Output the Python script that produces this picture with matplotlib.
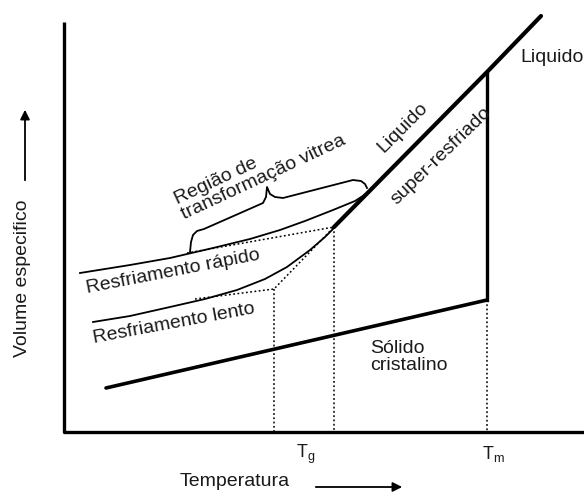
import numpy as np
import matplotlib
matplotlib.use("Agg")
import matplotlib.pyplot as plt

plt.rcParams['font.family'] = ['Liberation Sans', 'DejaVu Sans']
plt.rcParams['mathtext.fontset'] = 'custom'
plt.rcParams['mathtext.rm'] = 'Liberation Sans'

# schematic values (temperature, specific volume), arbitrary units
liquid_T = [270, 423, 477]
liquid_V = [205, 360, 416]
solid_T = [42, 423]
solid_V = [44, 132]
Tg = 210
Tg_fast = 270
Tm = 423
fast_T = [16, 66, 106, 149, 186, 216, 241, 269, 291, 305]
fast_V = [159, 167, 174, 184, 193, 202, 211, 222, 231, 240]
slow_T = [29, 66, 106, 141, 173, 201, 223, 246, 261, 272]
slow_V = [110, 116, 125, 133, 142, 153, 165, 182, 195, 206]
fast_glass_T = [123, 270]
fast_glass_V = [179, 205]
slow_glass_T = [131, 210, 270]
slow_glass_V = [133, 143, 205]
brace_T = [126, 127, 129, 133, 140, 199, 202, 203, 206, 211, 219, 289, 297, 301, 303]
brace_V = [180, 190, 197, 201, 203, 229, 235, 245, 238, 235, 234, 252, 251, 248, 244]

fig = plt.figure(figsize=(5.84, 4.93), dpi=100)
ax = fig.add_axes([0, 0, 1, 1])
ax.set_xlim(-64, 520)
ax.set_ylim(-61, 432)
ax.axis('off')

ink = '#1a1a1a'
dots = (0, (1.2, 1.6))

# axes
ax.plot([0, 0, 520], [410, 0, 0], color='black', lw=2.4, solid_capstyle='butt')

# dotted guides
ax.plot([Tm, Tm], [solid_V[1], 0], color='black', lw=1.1, ls=dots)
ax.plot([Tg, Tg], [slow_glass_V[1], 0], color='black', lw=1.1, ls=dots)
ax.plot([Tg_fast, Tg_fast], [fast_glass_V[1], 0], color='black', lw=1.1, ls=dots)
ax.plot(fast_glass_T, fast_glass_V, color='black', lw=1.1, ls=dots)
ax.plot(slow_glass_T, slow_glass_V, color='black', lw=1.1, ls=dots)

# curves
ax.plot(liquid_T, liquid_V, color='black', lw=3.0, solid_capstyle='round')
ax.plot([Tm, Tm], [liquid_V[1], solid_V[1]], color='black', lw=2.4)
ax.plot(solid_T, solid_V, color='black', lw=2.6, solid_capstyle='round')
ax.plot(fast_T, fast_V, color='black', lw=1.3)
ax.plot(slow_T, slow_V, color='black', lw=1.3)
ax.plot(brace_T, brace_V, color='black', lw=1.3)

fs = 14
ax.text(196, 262, 'Região de\ntransformação vitrea', rotation=25, fontsize=fs,
        color=ink, ha='center', va='center', multialignment='left',
        rotation_mode='anchor', linespacing=1.0)
ax.text(339, 304, 'Liquido', rotation=45, fontsize=fs, color=ink,
        ha='center', va='center', rotation_mode='anchor')
ax.text(377, 276, 'super-resfriado', rotation=44, fontsize=fs, color=ink,
        ha='center', va='center', rotation_mode='anchor')
ax.text(456, 375, 'Liquido', fontsize=fs, color=ink, ha='left', va='center')
ax.text(109, 160, 'Resfriamento rápido', rotation=11, fontsize=fs, color=ink,
        ha='center', va='center', rotation_mode='anchor')
ax.text(110, 108, 'Resfriamento lento', rotation=10.5, fontsize=fs, color=ink,
        ha='center', va='center', rotation_mode='anchor')
ax.text(306, 75, 'Sólido\ncristalino', fontsize=fs, color=ink, ha='left',
        va='center', linespacing=1.05)
ax.text(242, -22, r'T$_{\mathregular{g}}$', fontsize=fs - 1, color=ink, ha='center', va='center')
ax.text(429, -22, r'T$_{\mathregular{m}}$', fontsize=fs - 1, color=ink, ha='center', va='center')
ax.text(171, -49, 'Temperatura', fontsize=fs, color=ink, ha='center', va='center')
ax.text(-41, 154, 'Volume especifico', rotation=90, fontsize=fs, color=ink,
        ha='center', va='center')

ax.annotate('', xy=(341, -55), xytext=(249, -55),
            arrowprops=dict(arrowstyle='-|>', color='black', lw=1.3,
                            mutation_scale=14))
ax.annotate('', xy=(-39, 325), xytext=(-39, 249),
            arrowprops=dict(arrowstyle='-|>', color='black', lw=1.3,
                            mutation_scale=14))

fig.savefig('out.png', dpi=100)
